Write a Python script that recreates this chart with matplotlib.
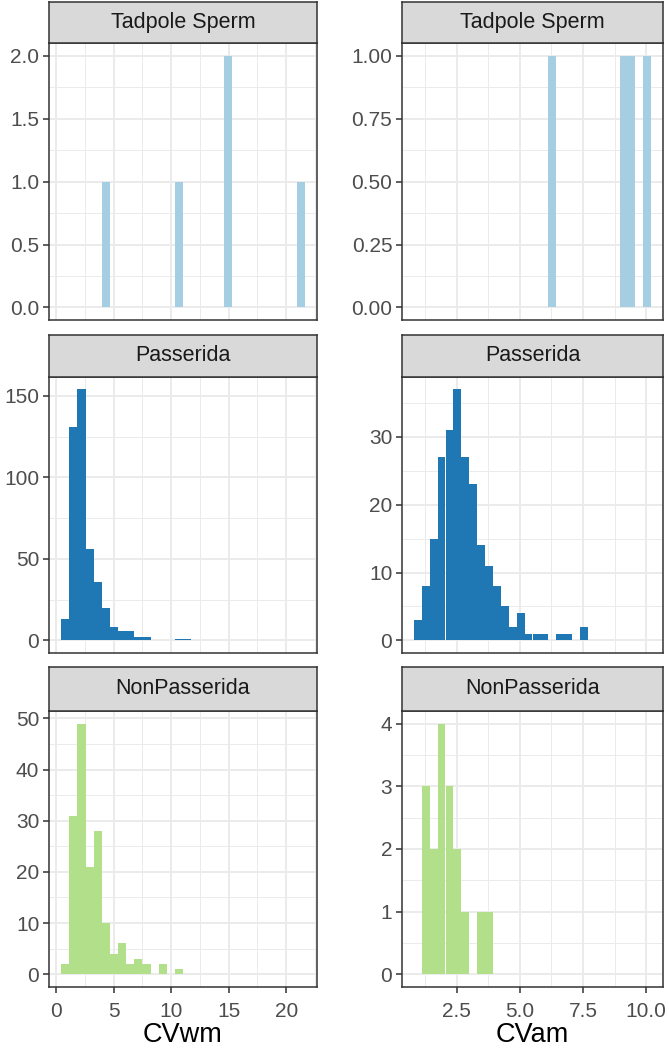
import numpy as np
import matplotlib
matplotlib.use("Agg")
import matplotlib.pyplot as plt
from matplotlib.ticker import FormatStrFormatter

plt.rcParams['font.family'] = ['Liberation Sans', 'DejaVu Sans']

# facet names (top to bottom)
groups = ['Tadpole Sperm', 'Passerida', 'NonPasserida']
group_colors = ['#a6cee3', '#1f78b4', '#b2df8a']

# CVwm histogram: 30 bins
cvwm_start = 0.43
cvwm_binwidth = 0.7065
cvwm_tadpole = [0, 0, 0, 0, 0, 1, 0, 0, 0, 0, 0, 0, 0, 0, 1,
                0, 0, 0, 0, 0, 2, 0, 0, 0, 0, 0, 0, 0, 0, 1]
cvwm_passerida = [13, 131, 154, 56, 36, 20, 8, 6, 6, 2, 2, 0, 0, 0, 1,
                  1, 0, 0, 0, 0, 0, 0, 0, 0, 0, 0, 0, 0, 0, 0]
cvwm_nonpasserida = [2, 31, 49, 21, 28, 10, 4, 6, 2, 3, 2, 0, 2, 0, 1,
                     0, 0, 0, 0, 0, 0, 0, 0, 0, 0, 0, 0, 0, 0, 0]

# CVam histogram: 30 bins
cvam_start = 0.806
cvam_binwidth = 0.313
cvam_tadpole = [0, 0, 0, 0, 0, 0, 0, 0, 0, 0, 0, 0, 0, 0, 0,
                0, 0, 1, 0, 0, 0, 0, 0, 0, 0, 0, 1, 1, 0, 1]
cvam_passerida = [3, 8, 15, 27, 31, 37, 27, 23, 14, 11, 8, 5, 2, 4, 1,
                  1, 1, 0, 1, 1, 0, 2, 0, 0, 0, 0, 0, 0, 0, 0]
cvam_nonpasserida = [0, 3, 2, 4, 3, 2, 1, 0, 1, 1, 0, 0, 0, 0, 0,
                     0, 0, 0, 0, 0, 0, 0, 0, 0, 0, 0, 0, 0, 0, 0]

cvwm_xticks = [0, 5, 10, 15, 20]
cvam_xticks = [2.5, 5.0, 7.5, 10.0]

yticks = {
    ('CVwm', 0): [0, 0.5, 1.0, 1.5, 2.0],
    ('CVwm', 1): [0, 50, 100, 150],
    ('CVwm', 2): [0, 10, 20, 30, 40, 50],
    ('CVam', 0): [0, 0.25, 0.5, 0.75, 1.0],
    ('CVam', 1): [0, 10, 20, 30],
    ('CVam', 2): [0, 1, 2, 3, 4],
}
yfmt = {('CVwm', 0): '%.1f', ('CVam', 0): '%.2f'}

columns = [
    ('CVwm', cvwm_start, cvwm_binwidth, [cvwm_tadpole, cvwm_passerida, cvwm_nonpasserida], cvwm_xticks, '%g'),
    ('CVam', cvam_start, cvam_binwidth, [cvam_tadpole, cvam_passerida, cvam_nonpasserida], cvam_xticks, '%.1f'),
]

W, H = 669, 1049
fig = plt.figure(figsize=(W / 100, H / 100), dpi=100)

col_px = [(49, 317), (402, 663)]
panel_px = [(43.3, 320), (376.7, 653), (711, 986.7)]
strip_px = [(1.5, 43.3), (334.7, 376.7), (667, 711)]

border = '#333333'
grid = '#ebebeb'

for c, (name, start, bw, counts_list, xticks, xfmt) in enumerate(columns):
    x0, x1 = col_px[c]
    edges = start + bw * np.arange(31)
    span = edges[-1] - edges[0]
    xlim = (edges[0] - 0.05 * span, edges[-1] + 0.05 * span)
    step = xticks[1] - xticks[0]
    xminor = np.arange(xticks[0] - step / 2, xlim[1], step)
    for r, counts in enumerate(counts_list):
        y0, y1 = panel_px[r]
        ax = fig.add_axes([x0 / W, 1 - y1 / H, (x1 - x0) / W, (y1 - y0) / H])
        ax.bar(edges[:-1], counts, width=bw, align='edge', color=group_colors[r],
               linewidth=0, zorder=3)
        ymax = max(counts)
        ax.set_ylim(-0.05 * ymax, ymax * 1.05)
        ax.set_xlim(*xlim)

        yt = yticks[(name, r)]
        ystep = yt[1] - yt[0]
        yminor = np.arange(yt[0] + ystep / 2, ymax * 1.05, ystep)
        for v in xminor:
            ax.axvline(v, color=grid, lw=0.7, zorder=1)
        for v in yminor:
            ax.axhline(v, color=grid, lw=0.7, zorder=1)
        for v in xticks:
            ax.axvline(v, color=grid, lw=1.4, zorder=1)
        for v in yt:
            ax.axhline(v, color=grid, lw=1.4, zorder=1)

        ax.set_yticks(yt)
        ax.yaxis.set_major_formatter(FormatStrFormatter(yfmt.get((name, r), '%g')))
        ax.set_xticks(xticks)
        ax.xaxis.set_major_formatter(FormatStrFormatter(xfmt))
        ax.tick_params(length=4.5, width=1.1, color=border, labelcolor='#4d4d4d',
                       labelsize=15, pad=2.5)
        if r < 2:
            ax.tick_params(axis='x', bottom=False, labelbottom=False)
        else:
            ax.tick_params(axis='x', pad=6.5)
            ax.set_xlabel(name, fontsize=19.5, color='black', labelpad=1)
        for s in ax.spines.values():
            s.set_color(border)
            s.set_linewidth(1.1)

        # facet strip
        sy0, sy1 = strip_px[r]
        sax = fig.add_axes([x0 / W, 1 - sy1 / H, (x1 - x0) / W, (sy1 - sy0) / H])
        sax.set_facecolor('#d9d9d9')
        sax.set_xticks([])
        sax.set_yticks([])
        for s in sax.spines.values():
            s.set_color(border)
            s.set_linewidth(1.1)
        sax.text(0.5, 0.5, groups[r], ha='center', va='center', fontsize=15.5,
                 color='#1a1a1a', transform=sax.transAxes)

plt.savefig('out.png', dpi=100)
